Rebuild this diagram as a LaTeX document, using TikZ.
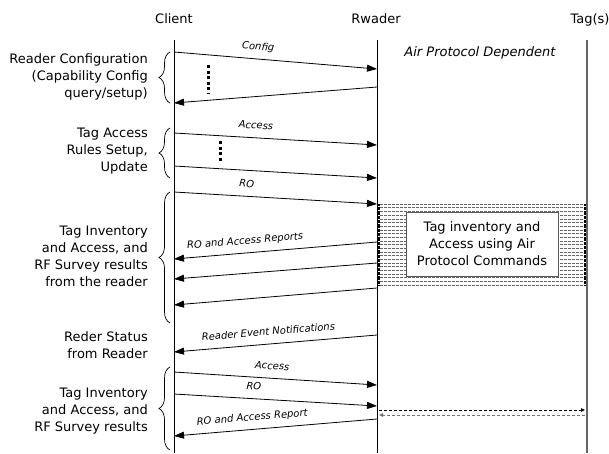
\documentclass[tikz,border=0pt]{standalone}
\usepackage{fontspec}
\setmainfont{DejaVu Sans}
\usetikzlibrary{arrows.meta,decorations.pathreplacing}

\begin{document}
\begin{tikzpicture}[x=1pt,y=-1pt,
  every node/.style={font=\fontsize{13}{17}\selectfont},
  hdr/.style={inner sep=0pt},
  lifeline/.style={line width=1pt,black},
  taglife/.style={line width=1.6pt,black!60},
  msg/.style={line width=0.8pt,-{Triangle[length=10pt,width=7pt]}},
  lbl/.style={font=\fontsize{10}{12}\selectfont\itshape, sloped, above=6pt,
              inner sep=0pt, text height=7.5pt, text depth=2.5pt},
  phase/.style={align=right, anchor=east, inner sep=0pt},
  grp/.style={decorate, decoration={brace, amplitude=11pt}, line width=0.7pt},
  ellip/.style={line width=3pt, dash pattern=on 3pt off 2.6pt},
  hatch/.style={black!60, line width=0.45pt, dash pattern=on 2.8pt off 1.2pt},
  ladder/.style={line width=2.6pt, dash pattern=on 0.6pt off 0.7pt},
  airfwd/.style={black, line width=0.8pt, dash pattern=on 3pt off 2pt,
                 -{Triangle[length=4pt,width=3.5pt]}},
  airback/.style={black!55, line width=0.8pt, dash pattern=on 3pt off 2pt,
                 -{Triangle[length=4pt,width=3.5pt]}}
]
\useasboundingbox (0,0) rectangle (609,453);

% participants
\node[hdr] (client) at (174,19) {Client};
\node[hdr] (reader) at (376,19) {Rwader};
\node[hdr] (tags)   at (590,20) {Tag(s)};
\node[font=\fontsize{13}{17}\selectfont\itshape] (air) at (480,53) {Air Protocol Dependent};

% air-protocol exchange area between reader and tags
\foreach \k in {0,...,22}
  \draw[hatch] (380,{204+3.68*\k}) -- (583,{204+3.68*\k});
\draw[ladder] (378.6,204) -- (378.6,285.5);
\draw[ladder] (585,204) -- (585,285.5);

% lifelines
\coordinate (ctop) at (174,40); \coordinate (cbot) at (174,453);
\coordinate (rtop) at (377,40); \coordinate (rbot) at (377,453);
\coordinate (ttop) at (587,40); \coordinate (tbot) at (587,453);
\draw[lifeline] (ctop) -- (cbot);
\draw[lifeline] (rtop) -- (rbot);
\draw[taglife] (ttop) -- (tbot);

\node[draw=black!65, fill=white, line width=0.8pt, minimum width=152pt,
      minimum height=64pt, align=center, inner sep=0pt] (box) at (482,244)
  {Tag inventory and\\Access using Air\\Protocol Commands};

% message end points
\coordinate (c1) at (174,52);  \coordinate (r1) at (377,69);
\coordinate (r2) at (377,87);  \coordinate (c2) at (174,103);
\coordinate (c3) at (174,133); \coordinate (r3) at (377,145);
\coordinate (c4) at (174,166); \coordinate (r4) at (377,178);
\coordinate (c5) at (174,192); \coordinate (r5) at (377,204);
\coordinate (r6) at (377,242); \coordinate (c6) at (174,259);
\coordinate (r7) at (377,263); \coordinate (c7) at (174,279);
\coordinate (r8) at (377,288); \coordinate (c8) at (174,305);
\coordinate (r9) at (377,335); \coordinate (c9) at (174,352);
\coordinate (c10) at (174,372); \coordinate (r10) at (377,385);
\coordinate (c11) at (174,394); \coordinate (r11) at (377,406);
\coordinate (r12) at (377,419); \coordinate (c12) at (174,436);
\coordinate (a1) at (379,410); \coordinate (t1) at (585,410);
\coordinate (t2) at (585,415); \coordinate (a2) at (379,415);

% messages
\draw[msg] (c1) -- node[lbl,pos=0.41]{Config} (r1);
\draw[msg] (r2) -- (c2);
\draw[msg] (c3) -- node[lbl,pos=0.40]{Access} (r3);
\draw[msg] (c4) -- (r4);
\draw[msg] (c5) -- node[lbl,pos=0.355]{RO} (r5);
\draw[msg] (r6) -- node[lbl,pos=0.645]{RO and Access Reports} (c6);
\draw[msg] (r7) -- (c7);
\draw[msg] (r8) -- (c8);
\draw[msg] (r9) -- node[lbl,pos=0.53]{Reader Event Notifications} (c9);
\draw[msg] (c10) -- node[lbl,pos=0.48]{Access} (r10);
\draw[msg] (c11) -- node[lbl,pos=0.39]{RO} (r11);
\draw[msg] (r12) -- node[lbl,pos=0.61]{RO and Access Report} (c12);
\draw[airfwd] (a1) -- (t1);
\draw[airback] (t2) -- (a2);

% repetition marks
\draw[ellip] (208,65) -- (208,94);
\draw[ellip] (220,141) -- (220,163);

% phase braces and captions
\draw[grp] (170,103) -- (170,52);
\draw[grp] (170,178) -- (170,128);
\draw[grp] (170,323) -- (170,192);
\draw[grp] (170,450) -- (170,367);

\node[phase] (p1) at (148,77)  {Reader Configuration\\(Capability Config\\query/setup)};
\node[phase] (p2) at (148,151) {Tag Access\\Rules Setup,\\Update};
\node[phase] (p3) at (148,256) {Tag Inventory\\and Access, and\\RF Survey results\\from the reader};
\node[phase] (p4) at (148,345) {Reder Status\\from Reader};
\node[phase] (p5) at (148,411) {Tag Inventory\\and Access, and\\RF Survey results};
\end{tikzpicture}
\end{document}
